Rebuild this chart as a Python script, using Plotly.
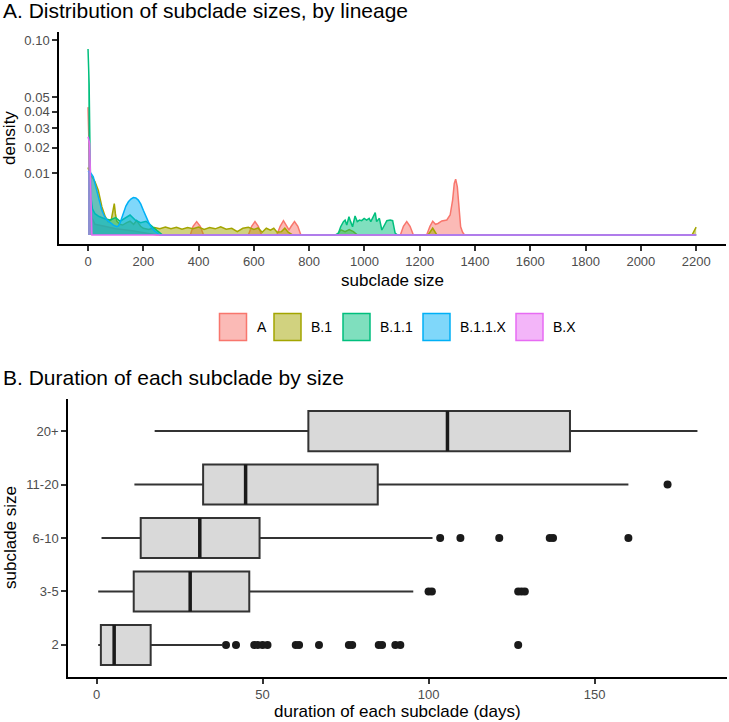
import numpy as np
import plotly.graph_objects as go

W, H = 729, 722

# ---------------- Panel A data: density of subclade sizes by lineage ----------------
lineages = ["A", "B.1", "B.1.1", "B.1.1.X", "B.X"]
colors = ["#F8766D", "#A3A500", "#00BF7D", "#00B0F6", "#E76BF3"]

a_size = [0, 4, 8, 14, 25, 60, 100, 160, 250, 370, 380, 393, 406, 418, 580, 592, 604, 616, 628,
          683, 695, 707, 719, 727, 735, 747, 759, 770, 1130, 1141, 1153, 1165, 1177, 1225, 1237,
          1247, 1257, 1266, 1280, 1298, 1310, 1319, 1325, 1330, 1336, 1341, 1348, 1355, 1362, 2200]
a_density = [0.043, 0.02, 0.004, 0.0008, 0.0003, 0.0002, 0.0001, 0.00005, 0, 0, 0.0002, 0.00047,
             0.0002, 0, 0, 0.0002, 0.00047, 0.0002, 0, 0, 0.0002, 0.00054, 0.0002, 0.00007, 0.0002,
             0.00047, 0.0002, 0, 0, 0.0002, 0.00047, 0.0002, 0, 0, 0.0002, 0.0005, 0.0003, 0.00035,
             0.00052, 0.00059, 0.00105, 0.0032, 0.007, 0.0082, 0.0061, 0.0021, 0.00018, 0.00002, 0, 0]

b1_size = [0, 8, 15, 25, 37, 50, 62, 73, 84, 91, 95, 99, 104, 115, 125, 140, 152, 165, 176, 190,
           200, 220, 240, 260, 280, 300, 320, 340, 360, 380, 400, 420, 440, 460, 480, 500, 520,
           540, 560, 580, 600, 615, 630, 645, 660, 672, 684, 700, 712, 724, 740, 900, 915, 930,
           945, 960, 975, 1230, 1247, 1262, 2185, 2200]
b1_density = [0.012, 0.0095, 0.0088, 0.0075, 0.0053, 0.0021, 0.0009, 0.00047, 0.0006, 0.0016,
              0.0026, 0.0012, 0.0005, 0.0003, 0.00026, 0.0004, 0.0005, 0.0003, 0.00055, 0.0002,
              0.00012, 0.00008, 0.00015, 0.0001, 0.00017, 0.0001, 0.00016, 0.00009, 0.00015,
              0.0001, 0.00017, 0.00008, 0.00015, 0.0001, 0.00018, 0.00009, 0.00012, 0.00003,
              0.00012, 0.00016, 0.00008, 0.00013, 0.00002, 0.00012, 0.00006, 0.00012, 0.00002,
              0.00003, 0.00012, 0.00002, 0, 0, 0.00007, 0.00003, 0.00008, 0.00003, 0, 0, 0.00012,
              0, 0, 0.00016]

b11_size = [0, 4, 7, 10, 16, 25, 40, 60, 80, 100, 116, 135, 152, 170, 190, 210, 230, 250, 270,
            895, 906, 914, 924, 930, 936, 944, 950, 957, 966, 974, 982, 990, 999, 1008, 1017, 1023,
            1032, 1039, 1044, 1054, 1063, 1071, 1081, 1093, 1102, 1111, 1120, 2200]
b11_density = [0.091, 0.06, 0.02, 0.004, 0.0018, 0.0012, 0.0009, 0.0007, 0.0006, 0.0008, 0.0005,
               0.0008, 0.00105, 0.0006, 0.0004, 0.0005, 0.0002, 0.00005, 0, 0, 0.00001, 0.00018,
               0.00047, 0.00059, 0.00026, 0.00088, 0.00047, 0.00018, 0.00095, 0.00047, 0.00059,
               0.00054, 0.00073, 0.00059, 0.00073, 0.00047, 0.00088, 0.00131, 0.00047, 0.00073,
               0.000066, 0.00026, 0.00054, 0.00059, 0.00054, 0.00001, 0, 0]

b11x_size = [0, 5, 10, 19, 25, 31, 40, 50, 58, 68, 80, 92, 104, 110, 116, 122, 128, 137, 146, 155,
             164, 173, 182, 191, 200, 209, 218, 227, 236, 260, 2200]
b11x_density = [0.0107, 0.0105, 0.0101, 0.0089, 0.0072, 0.0053, 0.0033, 0.0016, 0.001, 0.0006,
                0.0004, 0.00026, 0.00018, 0.00022, 0.0004, 0.0008, 0.0014, 0.0022, 0.0029, 0.0034,
                0.0037, 0.0036, 0.0032, 0.0025, 0.0016, 0.0009, 0.00047, 0.0002, 0.00007, 0, 0]

bx_size = [0, 6, 9, 11, 14, 2200]
bx_density = [0.0254, 0.022, 0.008, 0.0005, 0, 0]

density_sizes = [a_size, b1_size, b11_size, b11x_size, bx_size]
density_values = [a_density, b1_density, b11_density, b11x_density, bx_density]

density_ticks = [0.01, 0.02, 0.03, 0.04, 0.05, 0.10]
density_tick_text = ["0.01", "0.02", "0.03", "0.04", "0.05", "0.10"]
size_ticks = list(range(0, 2201, 200))

# ---------------- Panel B data: duration by subclade size ----------------
size_groups = ["2", "3-5", "6-10", "11-20", "20+"]
dur_lower = [0.5, 0.5, 1.5, 11.4, 17.5]
dur_q1 = [1.3, 11.2, 13.3, 32.1, 63.8]
dur_median = [5.3, 28.2, 31.1, 44.9, 105.7]
dur_q3 = [16.3, 46.0, 49.1, 84.7, 142.6]
dur_upper = [37.8, 95.4, 101.2, 160.2, 181.0]
outliers = [
    [39, 42, 47.5, 48.5, 50, 51.5, 60, 61, 67, 76, 77, 85, 86, 90, 91.5, 127],
    [100, 101, 127, 128, 129],
    [103.5, 109.6, 121.3, 136.5, 137.5, 160.2],
    [172],
    [],
]
duration_ticks = [0, 50, 100, 150]

FONT = "Liberation Sans, Arial, Helvetica, sans-serif"
TICKC = "#4D4D4D"

fig = go.Figure()

def rgba(hexc, a):
    h = hexc.lstrip("#")
    return "rgba(%d,%d,%d,%.2f)" % (int(h[0:2], 16), int(h[2:4], 16), int(h[4:6], 16), a)

for name, col, xs, ds in zip(lineages, colors, density_sizes, density_values):
    fig.add_trace(go.Scatter(
        x=xs, y=np.sqrt(np.array(ds, dtype=float)), mode="lines", name=name,
        line=dict(color=col, width=1.5), fill="tozeroy", fillcolor=rgba(col, 0.5),
        showlegend=False, xaxis="x", yaxis="y", hoverinfo="skip"))

pos = list(range(len(size_groups)))
fig.add_trace(go.Box(
    y=pos, q1=dur_q1, median=dur_median, q3=dur_q3, lowerfence=dur_lower, upperfence=dur_upper,
    orientation="h", width=0.75, whiskerwidth=0, fillcolor="#D9D9D9",
    line=dict(color="#333333", width=2), boxpoints=False, showlegend=False,
    xaxis="x2", yaxis="y2"))

mx, my = [], []
for i, m in enumerate(dur_median):
    mx += [m, m, None]
    my += [i - 0.375, i + 0.375, None]
fig.add_trace(go.Scatter(x=mx, y=my, mode="lines", line=dict(color="#1A1A1A", width=3.5),
                         showlegend=False, xaxis="x2", yaxis="y2", hoverinfo="skip"))

ox, oy = [], []
for i, outs in enumerate(outliers):
    ox += outs
    oy += [i] * len(outs)
fig.add_trace(go.Scatter(x=ox, y=oy, mode="markers", marker=dict(color="#1A1A1A", size=8),
                         showlegend=False, xaxis="x2", yaxis="y2", hoverinfo="skip"))

def px_x(p):
    return p / W

def px_y(p):
    return 1 - p / H

axis_common = dict(showline=True, linecolor="#000000", linewidth=1.5, ticks="outside",
                   ticklen=5, tickwidth=1.5, tickcolor="#333333", showgrid=False, zeroline=False,
                   tickfont=dict(family=FONT, size=13, color=TICKC))

fig.update_layout(
    width=W, height=H, margin=dict(l=0, r=0, t=0, b=0),
    paper_bgcolor="white", plot_bgcolor="white",
    font=dict(family=FONT, color="#000000"),
    xaxis=dict(domain=[px_x(59), px_x(726)], range=[-105, 2308], anchor="y",
               tickvals=size_ticks, **axis_common),
    yaxis=dict(domain=[px_y(244), px_y(32)], range=[-0.0146, 0.3292], anchor="x",
               tickvals=list(np.sqrt(density_ticks)), ticktext=density_tick_text, **axis_common),
    xaxis2=dict(domain=[px_x(68), px_x(727)], range=[-8.6, 189.9], anchor="y2",
                tickvals=duration_ticks, **axis_common),
    yaxis2=dict(domain=[px_y(677), px_y(399)], range=[-0.6, 4.6], anchor="x2",
                tickvals=pos, ticktext=size_groups, **axis_common),
)

ann = [
    dict(text="A. Distribution of subclade sizes, by lineage", x=px_x(1), y=px_y(11),
         xanchor="left", yanchor="middle", font=dict(size=21)),
    dict(text="B. Duration of each subclade by size", x=px_x(1), y=px_y(377),
         xanchor="left", yanchor="middle", font=dict(size=21)),
    dict(text="subclade size", x=px_x(392.5), y=px_y(280), xanchor="center", yanchor="middle",
         font=dict(size=17)),
    dict(text="density", x=px_x(10), y=px_y(138), xanchor="center", yanchor="middle",
         textangle=-90, font=dict(size=17)),
    dict(text="duration of each subclade (days)", x=px_x(397.5), y=px_y(711), xanchor="center",
         yanchor="middle", font=dict(size=17)),
    dict(text="subclade size", x=px_x(10), y=px_y(538), xanchor="center", yanchor="middle",
         textangle=-90, font=dict(size=17)),
]

# manual legend (layout positions in pixels)
legend_key_left = [219.5, 274, 343, 423, 516]
legend_key_size = 27
legend_cy = 327
shapes = []
for name, col, kx in zip(lineages, colors, legend_key_left):
    shapes.append(dict(type="rect", xref="paper", yref="paper",
                       x0=px_x(kx), x1=px_x(kx + legend_key_size),
                       y0=px_y(legend_cy + legend_key_size / 2), y1=px_y(legend_cy - legend_key_size / 2),
                       fillcolor=rgba(col, 0.5), line=dict(color=col, width=1.5)))
    ann.append(dict(text=name, x=px_x(kx + legend_key_size + 8), y=px_y(legend_cy),
                    xanchor="left", yanchor="middle", font=dict(size=14, color="#000000")))

for a in ann:
    a.update(xref="paper", yref="paper", showarrow=False)
fig.update_layout(annotations=ann, shapes=shapes)

fig.write_html("out.html", config={"displayModeBar": False},
               post_script="document.body.style.margin='0';document.body.style.padding='0';")
